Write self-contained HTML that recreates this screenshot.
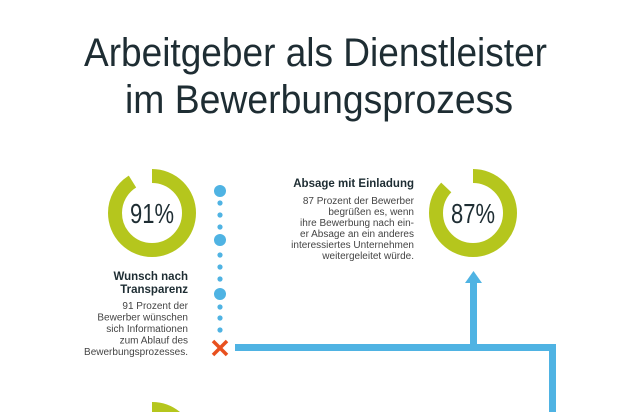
<!DOCTYPE html>
<html><head><meta charset="utf-8"><style>
html,body{margin:0;padding:0;background:#fff;width:630px;height:412px;overflow:hidden;}
svg{display:block;overflow:hidden;font-family:"Liberation Sans",sans-serif;}
</style></head><body>
<svg width="630" height="412" viewBox="0 0 630 412">
<defs><clipPath id="frame"><rect x="0" y="0" width="630" height="412"/></clipPath></defs>
<g clip-path="url(#frame)">
<g fill="#1e2d33" font-size="40">
<text x="84" y="66" textLength="463" lengthAdjust="spacingAndGlyphs">Arbeitgeber als Dienstleister</text>
<text x="125" y="113" textLength="388" lengthAdjust="spacingAndGlyphs">im Bewerbungsprozess</text>
</g>
<g id="donuts"></g>
<g fill="#4fb3e3">
<circle cx="220" cy="191" r="6"/>
<circle cx="220" cy="203" r="2.6"/><circle cx="220" cy="215" r="2.6"/><circle cx="220" cy="227" r="2.6"/>
<circle cx="220" cy="240" r="6"/>
<circle cx="220" cy="255" r="2.6"/><circle cx="220" cy="267" r="2.6"/><circle cx="220" cy="279" r="2.6"/>
<circle cx="220" cy="294" r="6"/>
<circle cx="220" cy="307" r="2.6"/><circle cx="220" cy="318" r="2.6"/><circle cx="220" cy="330" r="2.6"/>
</g>
<g stroke="#e8501e" stroke-width="3.5">
<line x1="213" y1="341" x2="227" y2="355"/><line x1="227" y1="341" x2="213" y2="355"/>
</g>
<g fill="#4fb3e3">
<rect x="235" y="344" width="321" height="7"/>
<rect x="549" y="344" width="7" height="68"/>
<rect x="470" y="281" width="7" height="66"/>
<polygon points="465,283 482,283 473.5,271"/>
</g>
<g text-anchor="end">
<text x="188" y="280" font-size="11.5" font-weight="bold" fill="#1e2d33">Wunsch nach</text>
<text x="188" y="293" font-size="11.5" font-weight="bold" fill="#1e2d33">Transparenz</text>
<g font-size="10" fill="#444">
<text x="188" y="309">91 Prozent der</text>
<text x="188" y="320.5">Bewerber wünschen</text>
<text x="188" y="332">sich Informationen</text>
<text x="188" y="343.5">zum Ablauf des</text>
<text x="188" y="355">Bewerbungsprozesses.</text>
</g></g>
<g text-anchor="end">
<text x="414" y="187" font-size="11.5" font-weight="bold" fill="#1e2d33">Absage mit Einladung</text>
<g font-size="10" fill="#444">
<text x="414" y="204">87 Prozent der Bewerber</text>
<text x="414" y="215">begrüßen es, wenn</text>
<text x="414" y="226">ihre Bewerbung nach ein-</text>
<text x="414" y="237">er Absage an ein anderes</text>
<text x="414" y="248">interessiertes Unternehmen</text>
<text x="414" y="259">weitergeleitet würde.</text>
</g></g>
<path d="M152 402 A 44 44 0 0 1 180 412 L 152 412 Z" fill="#b5c61d"/>
</g>
</svg>
<script>
const labels = ["91%", "87%"];
const values = [91, 87];
const centersX = [152, 473];
const ns = "http://www.w3.org/2000/svg";
const g = document.getElementById("donuts");
const R = 37, C = 2 * Math.PI * R;
values.forEach((v, i) => {
  const cx = centersX[i], cy = 213;
  const c = document.createElementNS(ns, "circle");
  c.setAttribute("cx", cx); c.setAttribute("cy", cy); c.setAttribute("r", R);
  c.setAttribute("fill", "none"); c.setAttribute("stroke", "#b5c61d"); c.setAttribute("stroke-width", "14");
  c.setAttribute("stroke-dasharray", (C * v / 100) + " " + C);
  c.setAttribute("transform", "rotate(-90 " + cx + " " + cy + ")");
  
  
  g.appendChild(c);
  const t = document.createElementNS(ns, "text");
  t.setAttribute("x", cx); t.setAttribute("y", cy + 10);
  t.setAttribute("text-anchor", "middle"); t.setAttribute("font-size", "28");
  t.setAttribute("fill", "#1e2d33");
  t.setAttribute("textLength", "44"); t.setAttribute("lengthAdjust", "spacingAndGlyphs");
  t.textContent = labels[i];
  
  
  g.appendChild(t);
});
</script>
</body></html>
